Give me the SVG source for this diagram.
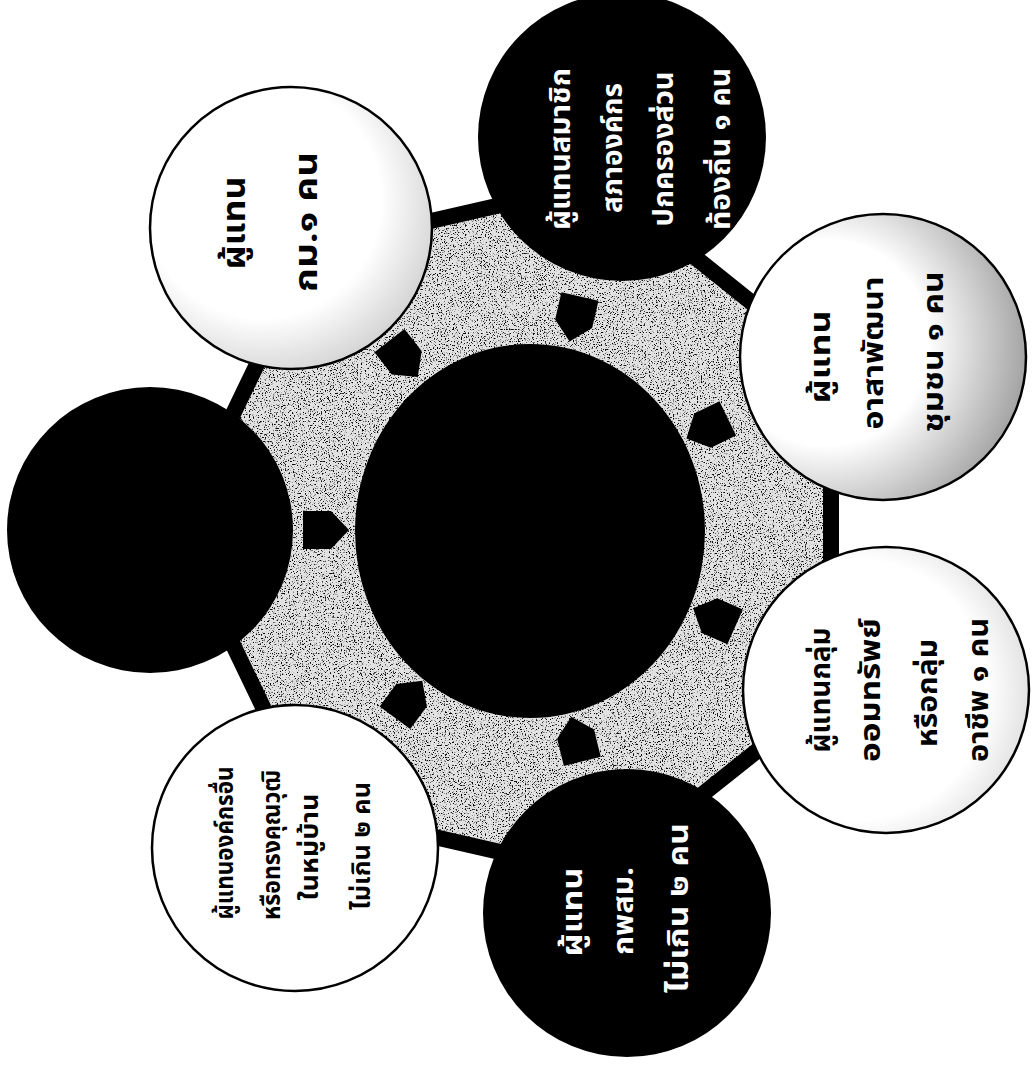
<svg xmlns="http://www.w3.org/2000/svg" width="1033" height="1067" viewBox="0 0 1033 1067">
<defs>
<style>
.t{font-family:"Noto Sans Thai","Noto Sans","DejaVu Sans","Liberation Sans",sans-serif;font-weight:bold;text-anchor:middle}
.w{fill:#ffffff}
.k{fill:#000000}
.wc{stroke:#000000;stroke-width:2.5}
</style>
<radialGradient id="g1" cx="0.4" cy="0.4" r="0.7">
<stop offset="0.6" stop-color="#ffffff"/><stop offset="1" stop-color="#c8c8c8"/>
</radialGradient>
<radialGradient id="g3" cx="0.3" cy="0.45" r="0.8">
<stop offset="0.45" stop-color="#ffffff"/><stop offset="1" stop-color="#8a8a8a"/>
</radialGradient>
<radialGradient id="g4" cx="0.4" cy="0.5" r="0.7">
<stop offset="0.65" stop-color="#ffffff"/><stop offset="1" stop-color="#d0d0d0"/>
</radialGradient>
<filter id="stip" x="0" y="0" width="1" height="1">
<feTurbulence type="fractalNoise" baseFrequency="0.75" numOctaves="2" seed="5" result="n"/>
<feColorMatrix in="n" type="matrix" values="0 0 0 0 0  0 0 0 0 0  0 0 0 0 0  0 0 0 7 -4.0" result="d"/>
<feComposite in="d" in2="SourceGraphic" operator="in"/>
</filter>
<path id="arw" d="M-22,-19 L6,-19 L24,0 L6,19 L-22,19 Z" fill="#000000"/>
</defs>
<rect width="1033" height="1067" fill="#ffffff"/>
<g id="background">
<polygon points="313,248 601,182 831,366 831,692 601,875 312,809 177.5,529.4" fill="#e2e2e2"/>
<polygon points="313,248 601,182 831,366 831,692 601,875 312,809 177.5,529.4" fill="#000000" filter="url(#stip)"/>
<polygon points="313,248 601,182 831,366 831,692 601,875 312,809 177.5,529.4" fill="none" stroke="#000000" stroke-width="16" stroke-linejoin="round"/>
</g>
<g id="center">
<ellipse cx="530" cy="531" rx="175" ry="187" fill="#000000"/>
</g>
<g id="connectors">
<use href="#arw" transform="translate(403,358) rotate(52)"/>
<use href="#arw" transform="translate(575,318) rotate(103)"/>
<use href="#arw" transform="translate(708,428) rotate(154)"/>
<use href="#arw" transform="translate(715,618) rotate(204)"/>
<use href="#arw" transform="translate(577,740) rotate(256)"/>
<use href="#arw" transform="translate(408,700) rotate(-53.5)"/>
<use href="#arw" transform="translate(325,530) rotate(0)"/>
</g>
<g id="node1">
<circle cx="291" cy="228" r="141" fill="url(#g1)" class="wc"/>
<text class="t k" font-size="32" textLength="93" lengthAdjust="spacingAndGlyphs" transform="translate(245,223) rotate(-90)">ผู้แทน</text>
<text class="t k" font-size="32" textLength="140" lengthAdjust="spacingAndGlyphs" transform="translate(317,222) rotate(-90)">กม.๑ คน</text>
</g>
<g id="node2">
<circle cx="622" cy="137" r="144" fill="#000000"/>
<text class="t w" font-size="28" textLength="162" lengthAdjust="spacingAndGlyphs" transform="translate(570,149) rotate(-90)">ผู้แทนสมาชิก</text>
<text class="t w" font-size="28" textLength="130" lengthAdjust="spacingAndGlyphs" transform="translate(622,148) rotate(-90)">สภาองค์กร</text>
<text class="t w" font-size="28" textLength="155" lengthAdjust="spacingAndGlyphs" transform="translate(673,149) rotate(-90)">ปกครองส่วน</text>
<text class="t w" font-size="28" textLength="162" lengthAdjust="spacingAndGlyphs" transform="translate(730,149) rotate(-90)">ท้องถิ่น ๑ คน</text>
</g>
<g id="node3">
<circle cx="883" cy="357" r="143" fill="url(#g3)" class="wc"/>
<text class="t k" font-size="29" textLength="93" lengthAdjust="spacingAndGlyphs" transform="translate(830,357) rotate(-90)">ผู้แทน</text>
<text class="t k" font-size="29" textLength="153" lengthAdjust="spacingAndGlyphs" transform="translate(883,353) rotate(-90)">อาสาพัฒนา</text>
<text class="t k" font-size="29" textLength="161" lengthAdjust="spacingAndGlyphs" transform="translate(943,352) rotate(-90)">ชุมชน ๑ คน</text>
</g>
<g id="node4">
<circle cx="886" cy="690" r="143" fill="url(#g4)" class="wc"/>
<text class="t k" font-size="28" textLength="125" lengthAdjust="spacingAndGlyphs" transform="translate(830,690) rotate(-90)">ผู้แทนกลุ่ม</text>
<text class="t k" font-size="28" textLength="144" lengthAdjust="spacingAndGlyphs" transform="translate(880,690) rotate(-90)">ออมทรัพย์</text>
<text class="t k" font-size="28" textLength="108" lengthAdjust="spacingAndGlyphs" transform="translate(937,693) rotate(-90)">หรือกลุ่ม</text>
<text class="t k" font-size="28" textLength="144" lengthAdjust="spacingAndGlyphs" transform="translate(988,690) rotate(-90)">อาชีพ ๑ คน</text>
</g>
<g id="node5">
<circle cx="627" cy="913" r="144" fill="#000000"/>
<text class="t w" font-size="28" textLength="89" lengthAdjust="spacingAndGlyphs" transform="translate(582,912) rotate(-90)">ผู้แทน</text>
<text class="t w" font-size="28" textLength="88" lengthAdjust="spacingAndGlyphs" transform="translate(633,911) rotate(-90)">กพสม.</text>
<text class="t w" font-size="28" textLength="170" lengthAdjust="spacingAndGlyphs" transform="translate(688,908) rotate(-90)">ไม่เกิน ๒ คน</text>
</g>
<g id="node6">
<circle cx="295" cy="848" r="143" fill="#ffffff" class="wc"/>
<text class="t k" font-size="24" textLength="153" lengthAdjust="spacingAndGlyphs" transform="translate(233,843) rotate(-90)">ผู้แทนองค์กรอื่น</text>
<text class="t k" font-size="24" textLength="150" lengthAdjust="spacingAndGlyphs" transform="translate(280,845) rotate(-90)">หรือทรงคุณวุฒิ</text>
<text class="t k" font-size="24" textLength="107" lengthAdjust="spacingAndGlyphs" transform="translate(318,847) rotate(-90)">ในหมู่บ้าน</text>
<text class="t k" font-size="24" textLength="128" lengthAdjust="spacingAndGlyphs" transform="translate(370,846) rotate(-90)">ไม่เกิน ๒ คน</text>
</g>
<g id="node7">
<circle cx="150" cy="530" r="143" fill="#000000"/>
</g>
</svg>
